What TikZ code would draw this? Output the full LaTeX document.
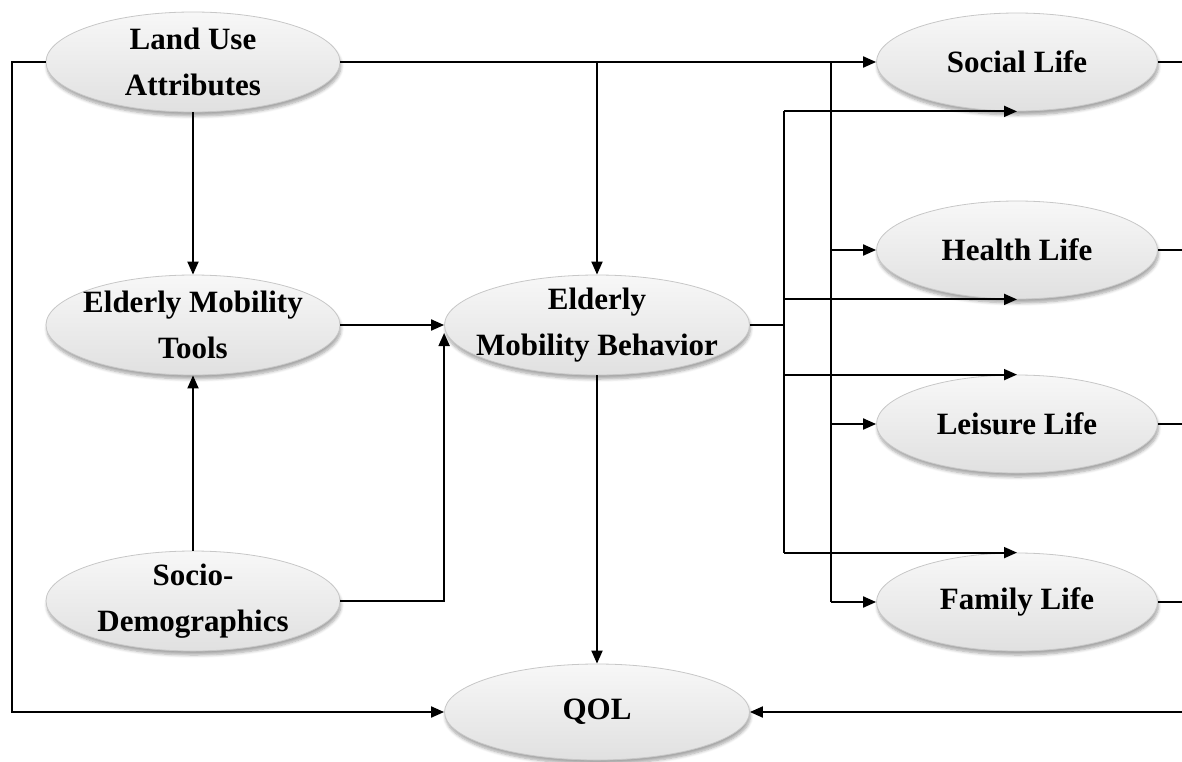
\documentclass[tikz,border=0pt]{standalone}
\usepackage{fontspec}
\setmainfont{Liberation Serif}
\usetikzlibrary{shapes.geometric,arrows.meta,calc,shadows.blur}

\tikzset{
  blob/.style={ellipse, draw=black!22, line width=0.8pt,
    top color=black!3, bottom color=black!12,
    blur shadow={shadow xshift=1pt, shadow yshift=-4pt, shadow blur steps=6,
      shadow blur radius=3pt, shadow opacity=35},
    inner xsep=-80pt, inner ysep=-30pt, align=center,
    font=\fontsize{31}{46}\selectfont\bfseries},
  wide/.style={minimum width=294pt, minimum height=100pt},
  life/.style={minimum width=281pt, minimum height=98pt},
  mid/.style={minimum width=305pt, minimum height=100pt},
  conn/.style={line width=1.9pt, draw=black},
  arr/.style={conn, -{Triangle[length=13pt,width=11pt]}},
}

\begin{document}
\begin{tikzpicture}[x=1pt, y=-1pt]
\useasboundingbox (0,0) rectangle (1182,761);

% left column
\node[blob, wide] (LU)  at (193,62)  {Land Use\\Attributes};
\node[blob, wide] (EMT) at (193,325) {Elderly Mobility\\Tools};
\node[blob, wide] (SD)  at (193,601) {Socio-\\Demographics};

% middle column
\node[blob, mid] (EMB) at (597,325) {Elderly\\Mobility Behavior};
\node[blob, mid, minimum height=96pt] (QOL) at (597,712) {QOL};

% right column
\node[blob, life] (SL) at (1017,62)  {Social Life};
\node[blob, life] (HL) at (1017,250) {Health Life};
\node[blob, life] (LL) at (1017,424) {Leisure Life};
\node[blob, life] (FL) at (1017,602) {Family Life};

% helper coordinates for the bus lines
\coordinate (lft) at (12,712);
\coordinate (lubus) at (831,62);
\coordinate (embus) at (784,325);
\coordinate (redge) at (1182,0);

% land use attributes
\draw[arr] (LU.west) -| (lft) -- (QOL.west);
\draw[arr] (LU.east) -- (SL.west);
\draw[arr] (LU.east -| EMB.north) -- (EMB.north);
\draw[arr] (LU.south) -- (EMT.north);
\draw[conn] (lubus) -- (lubus |- FL.west);
\draw[arr] (lubus |- HL.west) -- (HL.west);
\draw[arr] (lubus |- LL.west) -- (LL.west);
\draw[arr] (lubus |- FL.west) -- (FL.west);

% tools and socio-demographics
\draw[arr] (SD.north) -- (EMT.south);
\draw[arr] (EMT.east) -- (EMB.west);
\draw[arr] (SD.east) -| ($(EMB.west)+(0,8)$);

% elderly mobility behavior
\draw[conn] (EMB.east) -- (embus);
\draw[conn] (embus |- SL.south) -- (embus |- FL.north);
\draw[arr] (embus |- SL.south) -- (SL.south);
\draw[arr] (embus |- HL.south) -- (HL.south);
\draw[arr] (embus |- LL.north) -- (LL.north);
\draw[arr] (embus |- FL.north) -- (FL.north);
\draw[arr] (EMB.south) -- (QOL.north);

% life domains feed back into QOL along the right edge
\draw[conn] (SL.east) -- (SL.east -| redge);
\draw[conn] (HL.east) -- (HL.east -| redge);
\draw[conn] (LL.east) -- (LL.east -| redge);
\draw[conn] (FL.east) -- (FL.east -| redge);
\draw[arr] (QOL.east -| redge) -- (QOL.east);
\end{tikzpicture}
\end{document}
